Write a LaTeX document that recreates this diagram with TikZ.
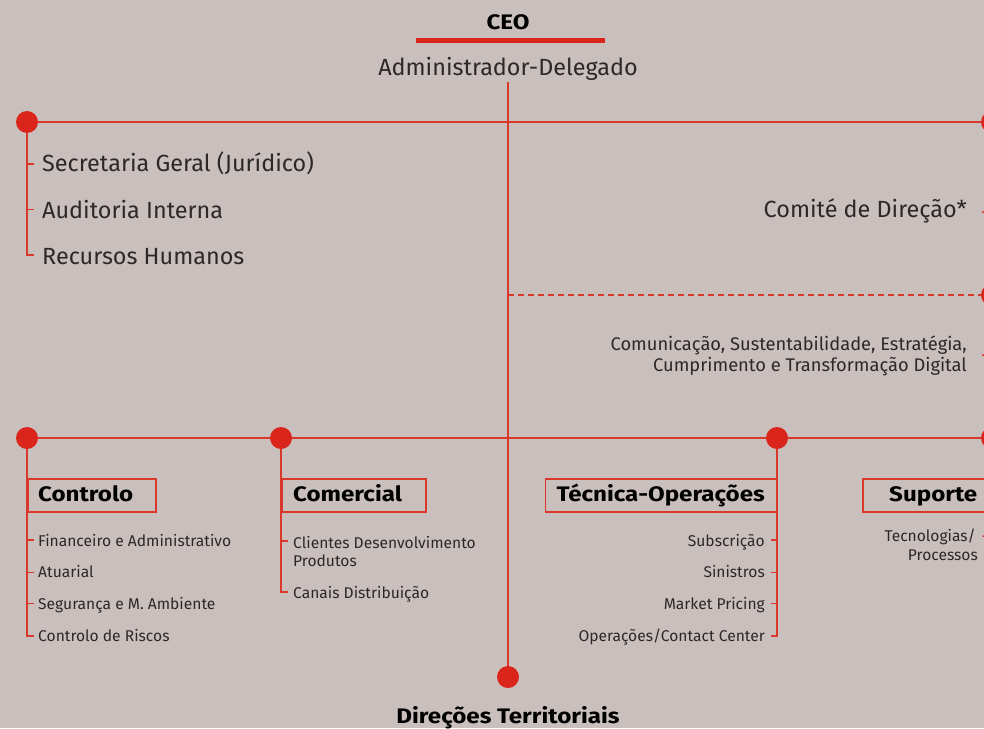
\documentclass[tikz,border=0pt]{standalone}
\usepackage{fontspec}
\setmainfont{Fira Sans}
\newfontfamily\hdrfont{Fira Sans}[FakeStretch=1.15]
\definecolor{bg}{RGB}{201,191,189}
\definecolor{dotred}{RGB}{218,37,28}
\definecolor{linered}{RGB}{218,55,45}
\definecolor{txt}{RGB}{45,40,40}
\tikzset{
  ln/.style={draw=linered, line width=1.5pt},
  dsh/.style={ln, dash pattern=on 6pt off 4pt},
  dotn/.style={circle, fill=dotred, minimum size=22pt, inner sep=0pt},
  hbox/.style={draw=linered, line width=1.5pt, minimum height=33pt, inner sep=0pt},
  big/.style={font=\fontsize{23.4}{27}\selectfont, text=txt, inner sep=0pt},
  mid/.style={font=\fontsize{18.3}{22}\selectfont, text=txt, inner sep=0pt, align=right},
  sml/.style={font=\fontsize{15.6}{19}\selectfont, text=txt, inner sep=0pt},
  hdr/.style={font=\hdrfont\bfseries\fontsize{21}{25}\selectfont, text=black, inner sep=0pt},
}
\begin{document}
\begin{tikzpicture}[x=1pt,y=-1pt]
\useasboundingbox (0,0) rectangle (984,728);
\fill[bg] (0,0) rectangle (984,728);
\clip (0,0) rectangle (984,728);

% CEO
\node[hdr, anchor=base] (ceo) at (508,29.3) {CEO};
\fill[dotred] (416,38.3) rectangle (605,43.3);
\node[big, anchor=base] (ad) at (508,75) {Administrador-Delegado};

% main vertical
\coordinate (mtop) at (508,82);
\node[dotn] (bot) at (508,677) {};
\draw[ln] (mtop) -- (bot);
\node[hdr, anchor=base] (dt) at (508,723.5) {Direções Territoriais};

% top line
\node[dotn] (tl) at (27,122) {};
\node[dotn] (tr) at (992,122) {};
\draw[ln] (tl) -- (tr);
\draw[ln] (tl) -- (27,255) -- (33.5,255);
\draw[ln] (27,164) -- (33.5,164);
\draw[ln] (27,209.3) -- (33.5,209.3);
\node[big, anchor=base west] (sg) at (42,171.7) {Secretaria Geral (Jurídico)};
\node[big, anchor=base west] (ai) at (42,218.3) {Auditoria Interna};
\node[big, anchor=base west] (rh) at (42,264) {Recursos Humanos};

\draw[ln] (tr) -- (990,212) -- (982,212);
\node[big, anchor=base east] (cd) at (967,217.3) {Comité de Direção*};

% dashed
\coordinate (dl) at (508,295);
\node[dotn] (dr) at (992,295) {};
\draw[dsh] (dl) -- (dr);
\draw[ln] (dr) -- (990,355) -- (982,355);
\node[mid, anchor=base east] (cs1) at (967,350) {Comunicação, Sustentabilidade, Estratégia,};
\node[mid, anchor=base east] (cs2) at (967,371.7) {Cumprimento e Transformação Digital};

% lower line
\node[dotn] (d1) at (27,438) {};
\node[dotn] (d2) at (281,438) {};
\node[dotn] (d3) at (777,438) {};
\node[dotn] (d4) at (992,438) {};
\draw[ln] (d1) -- (d2) -- (d3) -- (d4);

% Controlo
\draw[ln] (d1) -- (27,636) -- (33.5,636);
\foreach \y in {540,572.3,603.7} \draw[ln] (27,\y) -- (33.5,\y);
\node[hbox, minimum width=128pt, anchor=north west] (bc) at (27,478) {};
\node[hdr, anchor=base west] (hc) at (38,501.7) {Controlo};
\node[sml, anchor=base west] (c1) at (38,546) {Financeiro e Administrativo};
\node[sml, anchor=base west] (c2) at (38,577.7) {Atuarial};
\node[sml, anchor=base west] (c3) at (38,609.3) {Segurança e M. Ambiente};
\node[sml, anchor=base west] (c4) at (38,641.7) {Controlo de Riscos};

% Comercial
\draw[ln] (d2) -- (281,592) -- (287.5,592);
\draw[ln] (281,541) -- (287.5,541);
\node[hbox, minimum width=144pt, anchor=north west] (bm) at (281,478) {};
\node[hdr, anchor=base west] (hm) at (293,501.7) {Comercial};
\node[sml, anchor=base west] (m1) at (293,548.3) {Clientes Desenvolvimento};
\node[sml, anchor=base west] (m1b) at (293,566.7) {Produtos};
\node[sml, anchor=base west] (m2) at (293,598.3) {Canais Distribuição};

% Tecnica
\draw[ln] (d3) -- (777,636) -- (770.5,636);
\foreach \y in {540,572.3,603.7} \draw[ln] (777,\y) -- (770.5,\y);
\node[hbox, minimum width=231pt, anchor=north east] (bt) at (777,478) {};
\node[hdr, anchor=base east] (ht) at (765,501.7) {Técnica-Operações};
\node[sml, anchor=base east] (t1) at (765,546) {Subscrição};
\node[sml, anchor=base east] (t2) at (765,577.7) {Sinistros};
\node[sml, anchor=base east] (t3) at (765,609.3) {Market Pricing};
\node[sml, anchor=base east] (t4) at (765,641.7) {Operações/Contact Center};

% Suporte
\draw[ln] (d4) -- (990,536) -- (982.5,536);
\node[hbox, minimum width=140pt, anchor=north west] (bs) at (862,478) {};
\node[hdr, anchor=base west] (hs) at (889,501.7) {Suporte};
\node[sml, anchor=base east] (s1) at (976,541.7) {Tecnologias/};
\node[sml, anchor=base east] (s2) at (978,560) {Processos};
\end{tikzpicture}
\end{document}
